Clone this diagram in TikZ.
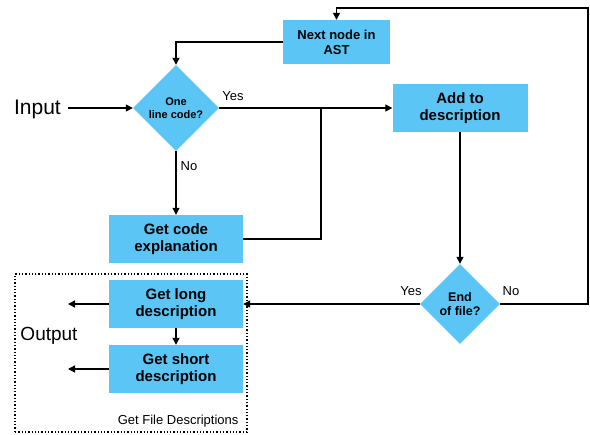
\documentclass[tikz,border=0pt]{standalone}
\usepackage{fontspec}
\setmainfont{Liberation Sans}
\usetikzlibrary{shapes.geometric,arrows.meta}
\definecolor{skyblue}{RGB}{91,197,246}
\begin{document}
\begin{tikzpicture}[x=1pt,y=-1pt,
        box/.style={fill=skyblue, minimum width=134pt, minimum height=48pt, inner sep=0pt, align=center, font=\fontsize{15}{17}\selectfont\bfseries},
        decision/.style={diamond, fill=skyblue, inner sep=0pt, align=center, minimum width=86pt, minimum height=86pt},
        flow/.style={-{Triangle[length=7pt,width=7pt]}, line width=1.3pt},
        wire/.style={line width=1.3pt},
        lbl/.style={font=\fontsize{13}{15}\selectfont, inner sep=0pt},
        big/.style={font=\fontsize{21}{24}\selectfont, inner sep=0pt}]
        \useasboundingbox (0,0) rectangle (590,435);
        \node[box, minimum width=107pt, minimum height=44pt, font=\fontsize{13}{15}\selectfont\bfseries] (next) at (336.5,42) {Next node in\\AST};
        \node[decision, font=\fontsize{11}{13}\selectfont\bfseries] (oneline) at (176,108) {One\\line code?};
        \node[big, anchor=east] (input) at (61,109) {Input};
        \node[box, minimum width=135pt] (add) at (460,108) {Add to\\description};
        \node[box] (expl) at (176,239) {Get code\\explanation};
        \node[decision, minimum width=80pt, minimum height=80pt, font=\fontsize{12.5}{14.5}\selectfont\bfseries] (eof) at (460,304) {End\\of file?};
        \node[box] (long) at (176,304) {Get long\\description};
        \node[box] (short) at (176,369) {Get short\\description};
        \node[big, font=\fontsize{19}{22}\selectfont] (output) at (49,336) {Output};
        \node[draw, dotted, line width=1.3pt, minimum width=232pt, minimum height=158pt] (files) at (131,353) {};
        \node[lbl, anchor=south east] (fileslbl) at ([xshift=-9pt,yshift=5pt]files.south east) {Get File Descriptions};
        \coordinate (join) at (321,108);
        \coordinate (loop) at (588,8);
        \coordinate (outlong) at (68,304);
        \coordinate (outshort) at (68,369);
        \draw[flow] ([xshift=7pt]input.east |- oneline.west) -- (oneline.west);
        \draw[flow] (next.west) -| (oneline.north);
        \draw[flow] (oneline.east) -- (add.west);
        \draw[flow] (oneline.south) -- (expl.north);
        \draw[wire] (expl.east) -| (join);
        \draw[flow] (add.south) -- (eof.north);
        \draw[flow] (eof.east) -| (loop) -| (next.north);
        \draw[flow] (eof.west) -- (long.east);
        \draw[flow] (long.south) -- (short.north);
        \draw[flow] (long.west) -- (outlong);
        \draw[flow] (short.west) -- (outshort);
        \node[lbl] (yesA) at (233,96) {Yes};
        \node[lbl] (noA) at (189,166) {No};
        \node[lbl] (yesB) at (411,291) {Yes};
        \node[lbl] (noB) at (511,291) {No};
    \end{tikzpicture}
\end{document}
